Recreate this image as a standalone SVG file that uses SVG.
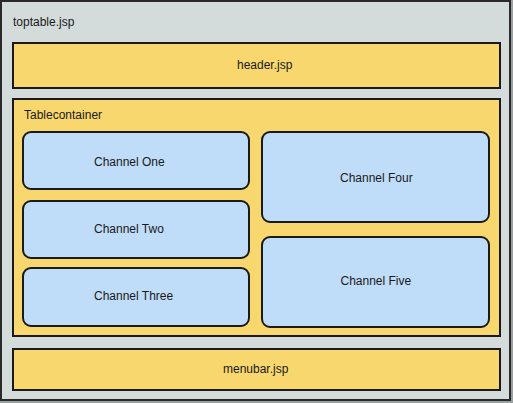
<svg xmlns="http://www.w3.org/2000/svg" width="513" height="403" viewBox="0 0 513 403">
<style>
text{font-family:"Liberation Sans",Arial,sans-serif;font-size:12px;fill:#1a1a1a}
.outer{fill:#d4dcdb;stroke:#2a2a2a;stroke-width:2}
.y{fill:#f8d76f;stroke:#1a1a1a;stroke-width:2}
.b{fill:#bfdcf8;stroke:#1a1a1a;stroke-width:2}
</style>
<rect x="0" y="0" width="513" height="403" fill="#9aa0a0"/>
<g id="toptable">
<rect class="outer" x="1" y="1" width="509" height="399"/>
<text x="13" y="26">toptable.jsp</text>
</g>
<g id="header">
<rect class="y" x="13" y="43" width="487" height="45"/>
<text x="237" y="68.5">header.jsp</text>
</g>
<g id="tablecontainer">
<rect class="y" x="13" y="99" width="487" height="237"/>
<text x="24" y="119">Tablecontainer</text>
</g>
<g id="channel-one">
<rect class="b" x="23" y="132" width="226" height="57" rx="8"/>
<text x="94" y="166">Channel One</text>
</g>
<g id="channel-two">
<rect class="b" x="23" y="201" width="226" height="57" rx="8"/>
<text x="94" y="233">Channel Two</text>
</g>
<g id="channel-three">
<rect class="b" x="23" y="268" width="226" height="58" rx="8"/>
<text x="94" y="300">Channel Three</text>
</g>
<g id="channel-four">
<rect class="b" x="262" y="132" width="227" height="90" rx="8"/>
<text x="340" y="182">Channel Four</text>
</g>
<g id="channel-five">
<rect class="b" x="262" y="237" width="227" height="90" rx="8"/>
<text x="340.5" y="285">Channel Five</text>
</g>
<g id="menubar">
<rect class="y" x="13" y="349" width="487" height="41"/>
<text x="223" y="372.5">menubar.jsp</text>
</g>
<g id="connectors"></g>
</svg>
